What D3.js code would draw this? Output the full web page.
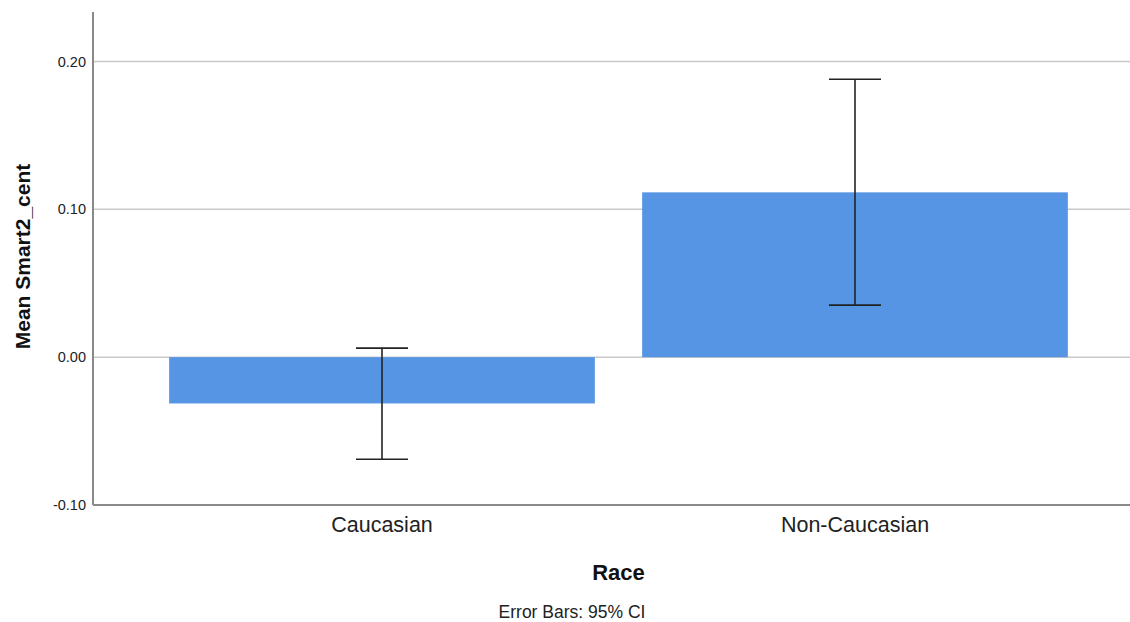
<!DOCTYPE html>
<html>
<head>
<meta charset="utf-8">
<script src="https://cdn.jsdelivr.net/npm/d3@7"></script>
<style>
  body { margin: 0; background: #fff; }
  text { font-family: 'Liberation Sans', Arial, sans-serif; }
</style>
</head>
<body>
<div id="chart"></div>
<script>
// data
const races = ['Caucasian', 'Non-Caucasian']
const means = [-0.0313, 0.1115]
const ciLow = [-0.0691, 0.0352]
const ciHigh = [0.0061, 0.1880]
const yTicks = [-0.10, 0.00, 0.10, 0.20]

let margin = { top: 12, left: 93, right: 0, bottom: 117 }
let width = 1130 - margin.left - margin.right
let height = 622 - margin.top - margin.bottom

let svg = d3.select('#chart')
  .append('svg')
  .attr('width', 1130)
  .attr('height', 622)
  .append('g')
  .attr('transform', 'translate(' + margin.left + ',' + margin.top + ')')

const y = d3.scaleLinear().domain([-0.10, 0.2335]).range([height, 0])

const x = d3.scaleBand()
  .domain(races)
  .range([52.5, 998.5])
  .paddingInner(0.1)
  .paddingOuter(0.05)

// gridlines
svg.selectAll('.grid')
  .data(yTicks.filter(d => d > -0.10))
  .enter()
  .append('line')
  .attr('x1', 0)
  .attr('x2', width)
  .attr('y1', d => y(d))
  .attr('y2', d => y(d))
  .attr('stroke', '#c9c9c9')
  .attr('stroke-width', 1.5)

// bars
svg.selectAll('.bar')
  .data(races)
  .enter()
  .append('rect')
  .attr('x', d => x(d))
  .attr('width', x.bandwidth())
  .attr('y', (d, i) => y(Math.max(0, means[i])))
  .attr('height', (d, i) => Math.abs(y(means[i]) - y(0)))
  .attr('fill', '#5595e3')

// error bars
const cap = 26
races.forEach(function(r, i) {
  let cx = x(r) + x.bandwidth() / 2
  let g = svg.append('g').attr('stroke', '#222').attr('stroke-width', 1.6)
  g.append('line').attr('x1', cx).attr('x2', cx).attr('y1', y(ciLow[i])).attr('y2', y(ciHigh[i]))
  g.append('line').attr('x1', cx - cap).attr('x2', cx + cap).attr('y1', y(ciLow[i])).attr('y2', y(ciLow[i]))
  g.append('line').attr('x1', cx - cap).attr('x2', cx + cap).attr('y1', y(ciHigh[i])).attr('y2', y(ciHigh[i]))
})

// axes
let yAxis = d3.axisLeft(y).tickValues(yTicks).tickFormat(d => d.toFixed(2)).tickSize(0).tickPadding(7)
svg.append('g')
  .call(yAxis)
  .call(g => g.select('.domain').remove())
  .selectAll('text')
  .attr('font-size', 14.5)
  .attr('fill', '#222')
  .style('font-family', "'Liberation Sans', Arial, sans-serif")

svg.append('line')
  .attr('x1', 0).attr('x2', 0)
  .attr('y1', 0).attr('y2', height)
  .attr('stroke', '#8a8a8a').attr('stroke-width', 2)

let xAxis = d3.axisBottom(x).tickSize(0).tickPadding(12)
svg.append('g')
  .attr('transform', 'translate(0,' + height + ')')
  .call(xAxis)
  .call(g => g.select('.domain').remove())
  .selectAll('text')
  .attr('font-size', 21.5)
  .attr('fill', '#222')
  .style('font-family', "'Liberation Sans', Arial, sans-serif")

svg.append('line')
  .attr('x1', 0).attr('x2', width)
  .attr('y1', height).attr('y2', height)
  .attr('stroke', '#8a8a8a').attr('stroke-width', 2)

// titles
svg.append('text')
  .attr('x', width / 2 + 7)
  .attr('y', height + 75)
  .attr('text-anchor', 'middle')
  .attr('font-size', 22)
  .attr('font-weight', 'bold')
  .attr('fill', '#111')
  .text('Race')

svg.append('text')
  .attr('transform', 'translate(' + (-63) + ',' + (height / 2 - 2) + ') rotate(-90)')
  .attr('text-anchor', 'middle')
  .attr('font-size', 21)
  .attr('font-weight', 'bold')
  .attr('fill', '#111')
  .text('Mean Smart2_cent')

svg.append('text')
  .attr('x', 479)
  .attr('y', height + 113)
  .attr('text-anchor', 'middle')
  .attr('font-size', 17.5)
  .attr('fill', '#222')
  .text('Error Bars: 95% CI')
</script>
</body>
</html>
